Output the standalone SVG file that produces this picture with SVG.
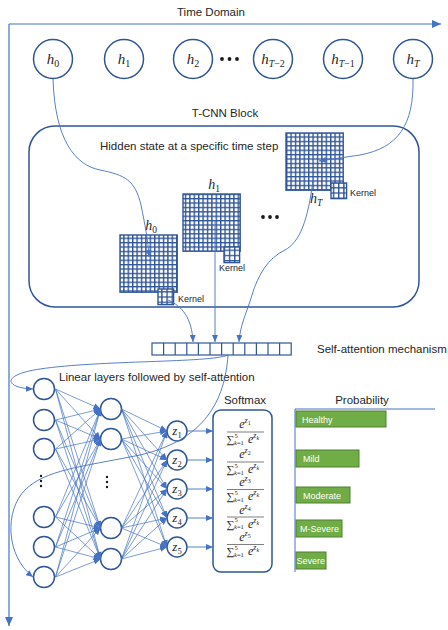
<svg xmlns="http://www.w3.org/2000/svg" width="448" height="630" viewBox="0 0 448 630">
<defs>
<marker id="ah" viewBox="0 0 10 10" refX="10" refY="5" markerWidth="7" markerHeight="6" markerUnits="userSpaceOnUse" orient="auto" preserveAspectRatio="none"><path d="M0,0L10,5L0,10z" fill="#4472C4"/></marker>
<marker id="ahb" viewBox="0 0 10 10" refX="10" refY="5" markerWidth="9" markerHeight="8" markerUnits="userSpaceOnUse" orient="auto" preserveAspectRatio="none"><path d="M0,0L10,5L0,10z" fill="#4472C4"/></marker>
<pattern id="g" width="4.4" height="4.4" patternUnits="userSpaceOnUse"><rect width="4.4" height="4.4" fill="#fff"/><path d="M0,0.7H4.4M0.7,0V4.4" stroke="#2F5597" stroke-width="1.4"/></pattern>
<pattern id="kp" width="5.2" height="5.2" patternUnits="userSpaceOnUse"><rect width="5.2" height="5.2" fill="#fff"/><path d="M0,0.7H5.2M0.7,0V5.2" stroke="#2F5597" stroke-width="1.4"/></pattern>
<style>
.t{font-family:"Liberation Sans",Arial,sans-serif;font-size:11.5px;fill:#262626}
.k{font-family:"Liberation Sans",Arial,sans-serif;font-size:9px;fill:#262626}
.bl{font-family:"Liberation Sans",Arial,sans-serif;font-size:9px;fill:#fff}
.m{font-family:"Liberation Serif","DejaVu Serif",serif;font-style:italic;fill:#262626}
.up{font-style:normal}
.node{fill:#fff;stroke:#2F5597;stroke-width:1.5}
.grid{fill:url(#g);stroke:#2F5597;stroke-width:1.4}
.ker{fill:url(#kp);stroke:#2F5597;stroke-width:1.4}
.box{fill:#fff;stroke:#2F5597;stroke-width:1.5}
.c{fill:none;stroke:#4472C4;stroke-width:0.9;marker-end:url(#ah)}
.nn{fill:none;stroke:#4472C4;stroke-width:0.7;marker-end:url(#ah)}
.axis{fill:none;stroke:#4472C4;stroke-width:1.2;marker-end:url(#ahb)}
.ax2{fill:none;stroke:#4472C4;stroke-width:1}
.bar{fill:#70AD47;stroke:#507E32;stroke-width:1}
.fl{stroke:#7F7F7F;stroke-width:1}
.dot{fill:#1a1a1a}
</style>
</defs>

<g id="time-domain">
<text class="t" x="211" y="16" text-anchor="middle">Time Domain</text>
</g>

<g id="h-nodes">
<g id="h0"><circle class="node" cx="53" cy="59" r="19.5"/><text class="m" x="53" y="64" font-size="15" text-anchor="middle">h<tspan class="up" font-size="10" dy="3">0</tspan></text></g>
<g id="h1"><circle class="node" cx="124" cy="59" r="19.5"/><text class="m" x="124" y="64" font-size="15" text-anchor="middle">h<tspan class="up" font-size="10" dy="3">1</tspan></text></g>
<g id="h2"><circle class="node" cx="193" cy="59" r="19.5"/><text class="m" x="193" y="64" font-size="15" text-anchor="middle">h<tspan class="up" font-size="10" dy="3">2</tspan></text></g>
<g id="hdots"><circle class="dot" cx="222" cy="59" r="1.9"/><circle class="dot" cx="229.5" cy="59" r="1.9"/><circle class="dot" cx="237" cy="59" r="1.9"/></g>
<g id="hT-2"><circle class="node" cx="273" cy="59" r="19.5"/><text class="m" x="273" y="64" font-size="15" text-anchor="middle">h<tspan font-size="10" dy="3">T<tspan class="up">−2</tspan></tspan></text></g>
<g id="hT-1"><circle class="node" cx="343" cy="59" r="19.5"/><text class="m" x="343" y="64" font-size="15" text-anchor="middle">h<tspan font-size="10" dy="3">T<tspan class="up">−1</tspan></tspan></text></g>
<g id="hT"><circle class="node" cx="413" cy="59" r="19.5"/><text class="m" x="413" y="64" font-size="15" text-anchor="middle">h<tspan font-size="10" dy="3">T</tspan></text></g>
</g>

<g id="tcnn-block">
<text class="t" x="225" y="117" text-anchor="middle">T-CNN Block</text>
<rect class="box" x="29" y="126" width="390" height="181" rx="26"/>
<text class="t" x="100" y="150">Hidden state at a specific time step</text>
</g>

<g id="grid-hT">
<rect class="grid" x="286" y="133" width="57.2" height="57.2"/>
<rect class="ker" x="331" y="183" width="15.6" height="15.6"/>
<text class="k" x="350" y="196">Kernel</text>
<text class="m" x="310" y="203" font-size="14">h<tspan font-size="9.5" dy="3">T</tspan></text>
</g>

<g id="grid-h1">
<rect class="grid" x="183" y="194" width="57.2" height="57.2"/>
<rect class="ker" x="224" y="247" width="15.6" height="15.6"/>
<text class="k" x="219" y="271">Kernel</text>
<text class="m" x="214" y="189" font-size="14" text-anchor="middle">h<tspan class="up" font-size="9.5" dy="3">1</tspan></text>
</g>

<g id="grid-dots"><circle class="dot" cx="263" cy="217" r="1.9"/><circle class="dot" cx="270" cy="217" r="1.9"/><circle class="dot" cx="277" cy="217" r="1.9"/></g>

<g id="grid-h0">
<rect class="grid" x="120" y="235" width="57.2" height="57.2"/>
<rect class="ker" x="158" y="289" width="15.6" height="15.6"/>
<text class="k" x="178" y="302">Kernel</text>
<text class="m" x="151" y="230" font-size="14" text-anchor="middle">h<tspan class="up" font-size="9.5" dy="3">0</tspan></text>
</g>

<g id="self-attention">
<rect x="152" y="343" width="139.2" height="12" fill="#fff" stroke="#2F5597" stroke-width="1.2"/>
<path d="M163.6,343v12M175.2,343v12M186.8,343v12M198.4,343v12M210,343v12M221.6,343v12M233.2,343v12M244.8,343v12M256.4,343v12M268,343v12M279.6,343v12" stroke="#2F5597" stroke-width="1.2"/>
<text class="t" x="317" y="353" font-size="12">Self-attention mechanism</text>
</g>

<g id="linear-layers">
<text class="t" x="59" y="381">Linear layers followed by self-attention</text>
</g>

<g id="input-layer">
<circle class="node" cx="44" cy="389" r="10.5"/>
<circle class="node" cx="44" cy="420" r="10.5"/>
<circle class="node" cx="44" cy="449" r="10.5"/>
<circle class="dot" cx="41" cy="476" r="1.2"/><circle class="dot" cx="41" cy="481" r="1.2"/><circle class="dot" cx="41" cy="486" r="1.2"/>
<circle class="node" cx="44" cy="517" r="10.5"/>
<circle class="node" cx="44" cy="547" r="10.5"/>
<circle class="node" cx="44" cy="577" r="10.5"/>
</g>

<g id="hidden-layer">
<circle class="node" cx="111" cy="409" r="10.5"/>
<circle class="node" cx="111" cy="439" r="10.5"/>
<circle class="dot" cx="107" cy="477" r="1.2"/><circle class="dot" cx="107" cy="482" r="1.2"/><circle class="dot" cx="107" cy="487" r="1.2"/>
<circle class="node" cx="111" cy="528" r="10.5"/>
<circle class="node" cx="111" cy="559" r="10.5"/>
</g>

<g id="output-layer">
<g id="z1"><circle class="node" cx="177" cy="431" r="10"/><text class="m" x="177" y="435" font-size="13" text-anchor="middle">z<tspan class="up" font-size="8.5" dy="2.5">1</tspan></text></g>
<g id="z2"><circle class="node" cx="177" cy="460" r="10"/><text class="m" x="177" y="464" font-size="13" text-anchor="middle">z<tspan class="up" font-size="8.5" dy="2.5">2</tspan></text></g>
<g id="z3"><circle class="node" cx="177" cy="489" r="10"/><text class="m" x="177" y="493" font-size="13" text-anchor="middle">z<tspan class="up" font-size="8.5" dy="2.5">3</tspan></text></g>
<g id="z4"><circle class="node" cx="177" cy="518" r="10"/><text class="m" x="177" y="522" font-size="13" text-anchor="middle">z<tspan class="up" font-size="8.5" dy="2.5">4</tspan></text></g>
<g id="z5"><circle class="node" cx="177" cy="547" r="10"/><text class="m" x="177" y="551" font-size="13" text-anchor="middle">z<tspan class="up" font-size="8.5" dy="2.5">5</tspan></text></g>
</g>

<g id="softmax">
<text class="t" x="245" y="404" text-anchor="middle">Softmax</text>
<rect class="box" x="213" y="410" width="59" height="162" rx="8"/>
<g id="frac1">
<text class="m" x="245" y="428" font-size="12" text-anchor="middle">e<tspan font-size="8" dy="-5">z</tspan><tspan class="up" font-size="6" dy="2">1</tspan></text>
<line class="fl" x1="227" y1="432" x2="264" y2="432"/>
<text class="m up" x="226.5" y="443" font-size="11">∑</text><text class="m up" x="234.5" y="437.5" font-size="6.5">5</text><text class="m" x="234" y="444.5" font-size="6.5">k<tspan class="up">=1</tspan></text>
<text class="m" x="248" y="443" font-size="12">e<tspan font-size="8" dy="-5">z</tspan><tspan font-size="6" dy="2">k</tspan></text>
</g>
<g id="frac2">
<text class="m" x="245" y="458" font-size="12" text-anchor="middle">e<tspan font-size="8" dy="-5">z</tspan><tspan class="up" font-size="6" dy="2">2</tspan></text>
<line class="fl" x1="227" y1="462" x2="264" y2="462"/>
<text class="m up" x="226.5" y="473" font-size="11">∑</text><text class="m up" x="234.5" y="467.5" font-size="6.5">5</text><text class="m" x="234" y="474.5" font-size="6.5">k<tspan class="up">=1</tspan></text>
<text class="m" x="248" y="473" font-size="12">e<tspan font-size="8" dy="-5">z</tspan><tspan font-size="6" dy="2">k</tspan></text>
</g>
<g id="frac3">
<text class="m" x="245" y="485.5" font-size="12" text-anchor="middle">e<tspan font-size="8" dy="-5">z</tspan><tspan class="up" font-size="6" dy="2">3</tspan></text>
<line class="fl" x1="227" y1="489.5" x2="264" y2="489.5"/>
<text class="m up" x="226.5" y="500" font-size="11">∑</text><text class="m up" x="234.5" y="494.5" font-size="6.5">5</text><text class="m" x="234" y="501.5" font-size="6.5">k<tspan class="up">=1</tspan></text>
<text class="m" x="248" y="500" font-size="12">e<tspan font-size="8" dy="-5">z</tspan><tspan font-size="6" dy="2">k</tspan></text>
</g>
<g id="frac4">
<text class="m" x="245" y="513.5" font-size="12" text-anchor="middle">e<tspan font-size="8" dy="-5">z</tspan><tspan class="up" font-size="6" dy="2">4</tspan></text>
<line class="fl" x1="227" y1="517" x2="264" y2="517"/>
<text class="m up" x="226.5" y="527.5" font-size="11">∑</text><text class="m up" x="234.5" y="522" font-size="6.5">5</text><text class="m" x="234" y="529" font-size="6.5">k<tspan class="up">=1</tspan></text>
<text class="m" x="248" y="527.5" font-size="12">e<tspan font-size="8" dy="-5">z</tspan><tspan font-size="6" dy="2">k</tspan></text>
</g>
<g id="frac5">
<text class="m" x="245" y="541" font-size="12" text-anchor="middle">e<tspan font-size="8" dy="-5">z</tspan><tspan class="up" font-size="6" dy="2">5</tspan></text>
<line class="fl" x1="227" y1="544.5" x2="264" y2="544.5"/>
<text class="m up" x="226.5" y="555" font-size="11">∑</text><text class="m up" x="234.5" y="549.5" font-size="6.5">5</text><text class="m" x="234" y="556.5" font-size="6.5">k<tspan class="up">=1</tspan></text>
<text class="m" x="248" y="555" font-size="12">e<tspan font-size="8" dy="-5">z</tspan><tspan font-size="6" dy="2">k</tspan></text>
</g>
</g>

<g id="probability">
<text class="t" x="362" y="404" text-anchor="middle">Probability</text>
<path class="ax2" d="M295,409H435M295,409V572"/>
<g id="bar-healthy"><rect class="bar" x="296" y="411" width="90" height="16"/><text class="bl" x="302" y="422.5">Healthy</text></g>
<g id="bar-mild"><rect class="bar" x="296" y="450" width="63" height="17"/><text class="bl" x="303" y="462">Mild</text></g>
<g id="bar-moderate"><rect class="bar" x="296" y="487" width="54" height="16"/><text class="bl" x="303" y="498.5">Moderate</text></g>
<g id="bar-msevere"><rect class="bar" x="296" y="520" width="46" height="17"/><text class="bl" x="300" y="532">M-Severe</text></g>
<g id="bar-severe"><rect class="bar" x="296" y="552" width="30" height="17"/><text class="bl" x="296.5" y="564">Severe</text></g>
</g>

<g id="connectors">
<path class="axis" d="M9,24H441"/>
<path class="axis" d="M9,24V626"/>
<path class="c" d="M53,79C55,140 75,165 100,170C125,175 135,180 141,205C145,225 148,240 149,257"/>
<path class="c" d="M413,79C414,125 398,148 360,155L319,161"/>
<path class="c" d="M168,300C182,306 192,318 193,342"/>
<path class="c" d="M215,220V342"/>
<path class="c" d="M313,180C308,220 300,242 285,250C268,258 258,275 252,295C247,312 240,325 239,342"/>
<path class="c" d="M228,355C210,363 100,360 40,369C0,375 5,388 33,389"/>
<path class="c" d="M228,355C225,400 205,440 140,455C80,467 45,470 25,490C5,510 5,555 33,577"/>
<g id="in-hidden">
<path class="nn" d="M55.5,389L100.5,409"/><path class="nn" d="M55.5,389L100.5,439"/><path class="nn" d="M55.5,389L100.5,528"/><path class="nn" d="M55.5,389L100.5,559"/>
<path class="nn" d="M55.5,420L100.5,409"/><path class="nn" d="M55.5,420L100.5,439"/><path class="nn" d="M55.5,420L100.5,528"/><path class="nn" d="M55.5,420L100.5,559"/>
<path class="nn" d="M55.5,449L100.5,409"/><path class="nn" d="M55.5,449L100.5,439"/><path class="nn" d="M55.5,449L100.5,528"/><path class="nn" d="M55.5,449L100.5,559"/>
<path class="nn" d="M55.5,517L100.5,409"/><path class="nn" d="M55.5,517L100.5,439"/><path class="nn" d="M55.5,517L100.5,528"/><path class="nn" d="M55.5,517L100.5,559"/>
<path class="nn" d="M55.5,547L100.5,409"/><path class="nn" d="M55.5,547L100.5,439"/><path class="nn" d="M55.5,547L100.5,528"/><path class="nn" d="M55.5,547L100.5,559"/>
<path class="nn" d="M55.5,577L100.5,409"/><path class="nn" d="M55.5,577L100.5,439"/><path class="nn" d="M55.5,577L100.5,528"/><path class="nn" d="M55.5,577L100.5,559"/>
</g>
<g id="hidden-out">
<path class="nn" d="M121.5,409L167,431"/><path class="nn" d="M121.5,409L167,460"/><path class="nn" d="M121.5,409L167,489"/><path class="nn" d="M121.5,409L167,518"/><path class="nn" d="M121.5,409L167,547"/>
<path class="nn" d="M121.5,439L167,431"/><path class="nn" d="M121.5,439L167,460"/><path class="nn" d="M121.5,439L167,489"/><path class="nn" d="M121.5,439L167,518"/><path class="nn" d="M121.5,439L167,547"/>
<path class="nn" d="M121.5,528L167,431"/><path class="nn" d="M121.5,528L167,460"/><path class="nn" d="M121.5,528L167,489"/><path class="nn" d="M121.5,528L167,518"/><path class="nn" d="M121.5,528L167,547"/>
<path class="nn" d="M121.5,559L167,431"/><path class="nn" d="M121.5,559L167,460"/><path class="nn" d="M121.5,559L167,489"/><path class="nn" d="M121.5,559L167,518"/><path class="nn" d="M121.5,559L167,547"/>
</g>
<g id="to-softmax">
<path class="c" d="M187,431H213"/><path class="c" d="M187,460H213"/><path class="c" d="M187,489H213"/><path class="c" d="M187,518H213"/><path class="c" d="M187,547H213"/>
</g>
</g>
</svg>
